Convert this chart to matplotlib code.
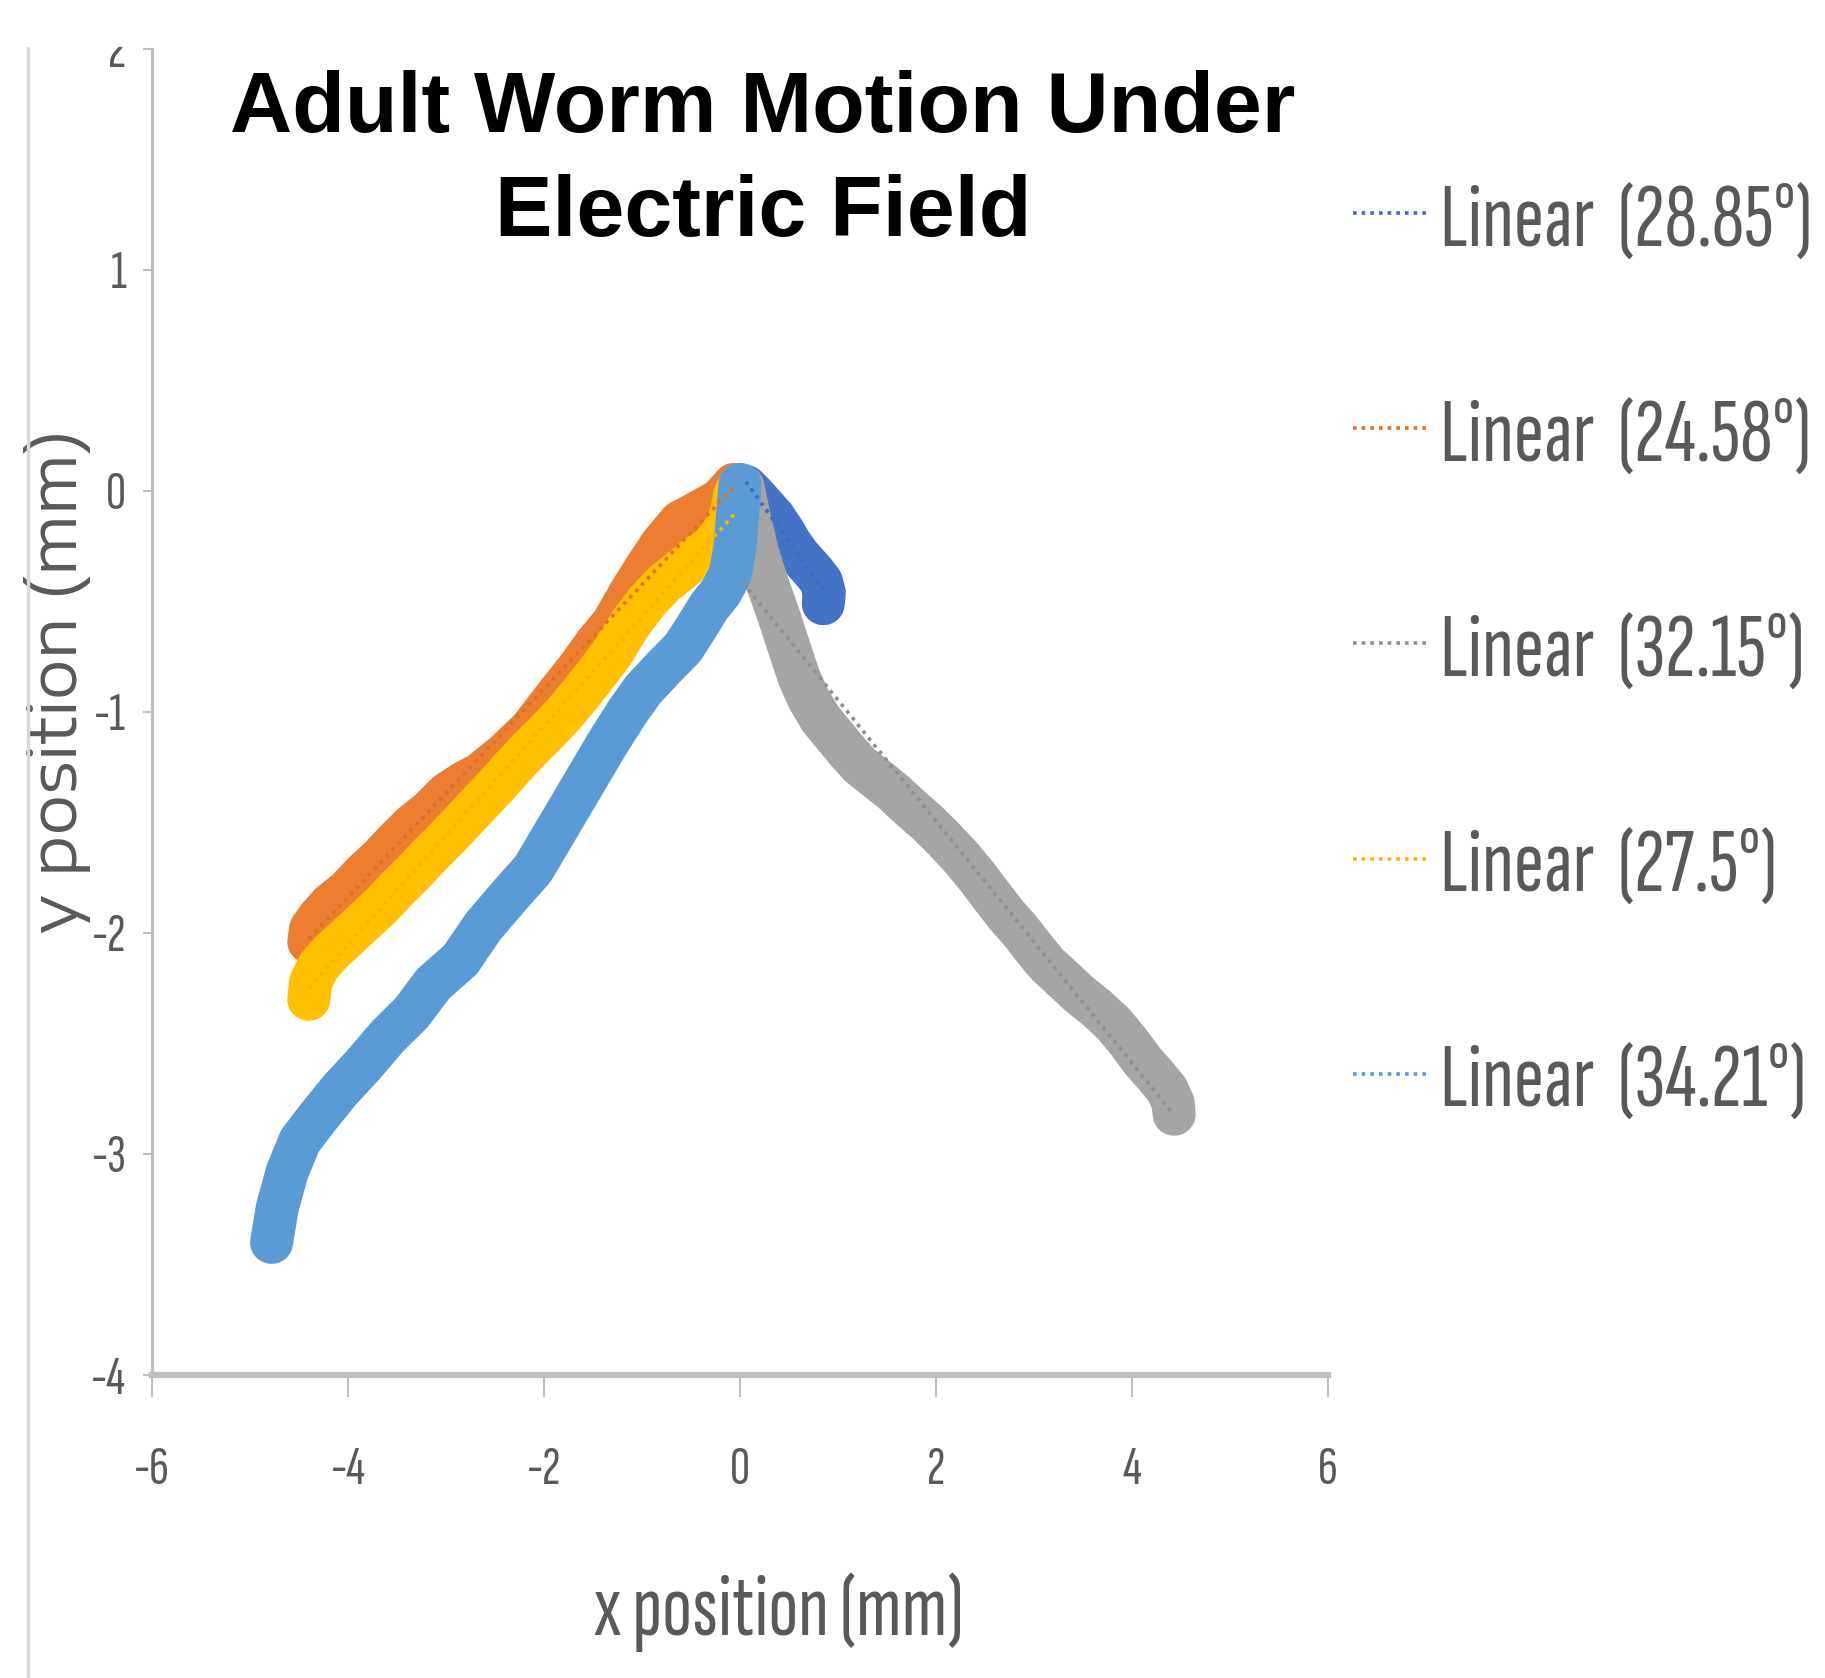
import numpy as np
import matplotlib
matplotlib.use('Agg')
from matplotlib import pyplot as plt
from matplotlib import font_manager
from matplotlib.lines import Line2D
from matplotlib.patches import Rectangle

# worm tracks (mm)
blue_x = [0.06, 0.15, 0.25, 0.35, 0.44, 0.52, 0.60, 0.68, 0.76, 0.83, 0.86, 0.85]
blue_y = [0.02, -0.02, -0.07, -0.12, -0.18, -0.24, -0.29, -0.33, -0.37, -0.41, -0.46, -0.51]

orange_x = [-0.06, -0.20, -0.40, -0.61, -0.80, -0.95, -1.12, -1.30, -1.47, -1.63, -1.88,
            -2.14, -2.40, -2.65, -2.82, -2.99, -3.17, -3.34, -3.50, -3.67, -3.84, -4.01,
            -4.18, -4.30, -4.38, -4.40]
orange_y = [0.03, -0.04, -0.09, -0.14, -0.24, -0.34, -0.46, -0.60, -0.69, -0.79, -0.93,
            -1.08, -1.19, -1.28, -1.32, -1.37, -1.45, -1.51, -1.58, -1.66, -1.73, -1.81,
            -1.87, -1.93, -1.98, -2.04]

grey_x = [0.03, 0.10, 0.18, 0.28, 0.40, 0.51, 0.60, 0.70, 0.82, 0.95, 1.08, 1.22, 1.39,
          1.56, 1.73, 1.91, 2.07, 2.24, 2.41, 2.58, 2.72, 2.86, 3.00, 3.13, 3.30, 3.47,
          3.64, 3.81, 3.96, 4.11, 4.25, 4.36, 4.42, 4.43]
grey_y = [0.02, -0.13, -0.28, -0.42, -0.57, -0.72, -0.84, -0.94, -1.03, -1.10, -1.17,
          -1.24, -1.30, -1.36, -1.43, -1.50, -1.57, -1.65, -1.74, -1.84, -1.92, -1.99,
          -2.07, -2.14, -2.21, -2.28, -2.34, -2.41, -2.49, -2.58, -2.65, -2.71, -2.77, -2.82]

yellow_x = [-0.04, -0.12, -0.28, -0.45, -0.61, -0.78, -0.95, -1.12, -1.30, -1.47, -1.63,
            -1.80, -1.97, -2.15, -2.32, -2.48, -2.65, -2.82, -2.99, -3.17, -3.34, -3.50,
            -3.67, -3.84, -4.01, -4.18, -4.30, -4.38, -4.40]
yellow_y = [0.00, -0.15, -0.25, -0.30, -0.36, -0.42, -0.50, -0.60, -0.73, -0.83, -0.92,
            -1.01, -1.09, -1.17, -1.25, -1.33, -1.41, -1.49, -1.57, -1.65, -1.73, -1.80,
            -1.88, -1.95, -2.02, -2.09, -2.15, -2.22, -2.30]

lblue_x = [0.00, -0.02, -0.05, -0.10, -0.20, -0.31, -0.45, -0.58, -0.78, -0.99, -1.15,
           -1.35, -1.55, -1.75, -1.95, -2.11, -2.35, -2.62, -2.85, -3.13, -3.35, -3.60,
           -3.85, -4.08, -4.30, -4.49, -4.62, -4.72, -4.78]
lblue_y = [0.03, -0.08, -0.25, -0.38, -0.46, -0.52, -0.62, -0.71, -0.80, -0.90, -1.00,
           -1.14, -1.29, -1.44, -1.59, -1.71, -1.83, -1.97, -2.12, -2.23, -2.36, -2.47,
           -2.60, -2.71, -2.83, -2.94, -3.08, -3.24, -3.40]

tracks = [(blue_x, blue_y), (orange_x, orange_y), (grey_x, grey_y),
          (yellow_x, yellow_y), (lblue_x, lblue_y)]
series_colors = ['#4472C4', '#ED7D31', '#A5A5A5', '#FFC000', '#5B9BD5']
trend_colors = ['#3F6CC0', '#E0701F', '#8F8F8F', '#F2B800', '#5B9BD5']
angles = [28.85, 24.58, 32.15, 27.5, 34.21]  # as written in the legend

xticks = [-6, -4, -2, 0, 2, 4, 6]
yticks = [-4, -3, -2, -1, 0, 1, 2]

installed = {f.name for f in font_manager.fontManager.ttflist}


def pick(names, default):
    for name in names:
        if name in installed:
            return name
    return default


narrow = pick(['Sofia Sans Extra Condensed', 'Saira ExtraCondensed',
               'Fira Sans Extra Condensed', 'Barlow Condensed', 'Roboto Condensed'],
              'Liberation Sans')
wide = pick(['Encode Sans Expanded', 'Encode Sans Semi Expanded',
             'Special Gothic Expanded One'], 'DejaVu Sans')

plt.rcParams['axes.unicode_minus'] = False
W, H = 1825, 1678
fig = plt.figure(figsize=(W / 100, H / 100), dpi=100)
ax = fig.add_axes([152 / W, 1 - 1375 / H, 1176 / W, 1326 / H])

for (tx, ty), c in zip(tracks, series_colors):
    ax.plot(tx, ty, color=c, lw=31, solid_capstyle='round', solid_joinstyle='round',
            zorder=2)

# linear trendlines (least squares over each track)
trend_lines = []
for (tx, ty), c, a in zip(tracks, trend_colors, angles):
    m, b = np.polyfit(tx, ty, 1)
    xs = np.array([min(tx), max(tx)])
    ln, = ax.plot(xs, m * xs + b, color=c, lw=2.6, linestyle=(0, (1, 1.4)), zorder=5,
                  label='Linear  (%s°)' % a)
    trend_lines.append(ln)

ax.set_xlim(-6, 6)
ax.set_ylim(-4, 2)
ax.set_xticks(xticks)
ax.set_yticks(yticks)
for sp in ['top', 'right']:
    ax.spines[sp].set_visible(False)
ax.spines['bottom'].set_color('#BFBFBF')
ax.spines['bottom'].set_linewidth(4.5)
ax.spines['left'].set_color('#BFBFBF')
ax.spines['left'].set_linewidth(2.2)

tick_size = 40
ax.tick_params(axis='x', direction='out', length=16, width=1.5, color='#BFBFBF',
               labelcolor='#595959', labelsize=tick_size, pad=36)
ax.tick_params(axis='y', direction='out', length=6.5, width=1.5, color='#BFBFBF',
               labelcolor='#595959', labelsize=tick_size, pad=12)
for lab in ax.get_xticklabels() + ax.get_yticklabels():
    lab.set_family(narrow)

renderer = fig.canvas.get_renderer()


def measure(text, family, size):
    t = fig.text(0, 0, text, family=family, fontsize=size, va='baseline')
    bb = t.get_window_extent(renderer)
    t.remove()
    return bb


def fit_size(text, family, target_px, start=40):
    return start * target_px / measure(text, family, start).width


xl_size = fit_size('x position (mm)', narrow, 370)
ax.set_xlabel('x position (mm)', family=narrow, fontsize=xl_size, color='#595959',
              va='center')
ax.xaxis.set_label_coords((779 - 152) / 1176, (1375 - 1612) / 1326)

# y label: as long as the room allows, but no thicker than the gap left of the ticks
yl_size = 46
bb = measure('y position (mm)', wide, yl_size)
yl_size = min(yl_size * 66 / bb.height, yl_size * 940 / bb.width)
ax.set_ylabel('y position (mm)', family=wide, fontsize=yl_size, color='#595959',
              va='center')
ax.yaxis.set_label_coords((58 - 152) / 1176, (1375 - 681) / 1326)

title_kw = dict(family='Liberation Sans', fontweight='bold', fontsize=62, ha='center',
                va='baseline')
fig.text(763 / W, 1 - 132 / H, 'Adult Worm Motion Under', **title_kw)
fig.text(763 / W, 1 - 236 / H, 'Electric Field', **title_kw)

label = 'Linear  (28.85°)'
leg_size = fit_size(label, narrow, 372)
fs_px = leg_size * 100 / 72
bb = measure(label, narrow, leg_size)
text_h = bb.height
first_center = 211
top_px = first_center - (bb.y1 - 0.35 * fs_px)
leg = fig.legend(handles=trend_lines, loc='upper left',
                 bbox_to_anchor=(1353 / W, 1 - top_px / H),
                 frameon=False, prop={'family': narrow, 'size': leg_size},
                 labelcolor='#595959', handlelength=74 / fs_px,
                 handletextpad=13 / fs_px,
                 labelspacing=(213 - text_h) / fs_px,
                 borderpad=0, borderaxespad=0)

# light border line on the left and cropped top edge
fig.add_artist(Line2D([28 / W, 28 / W], [0, 1 - 47 / H], transform=fig.transFigure,
                      color='#D9D9D9', lw=2.5))
fig.add_artist(Rectangle((0, 1 - 47 / H), 1, 47 / H, transform=fig.transFigure,
                         facecolor='white', edgecolor='none', zorder=10))

fig.savefig('out.png', dpi=100)
